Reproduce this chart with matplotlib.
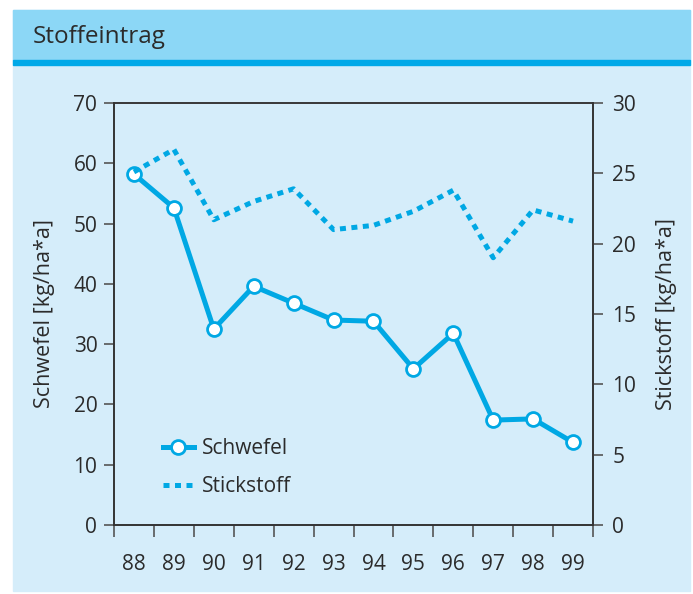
import matplotlib
matplotlib.use("Agg")
import matplotlib.pyplot as plt
from matplotlib.patches import Rectangle
import numpy as np

plt.rcParams['font.family'] = ['Open Sans', 'DejaVu Sans']

years = ["88", "89", "90", "91", "92", "93", "94", "95", "96", "97", "98", "99"]
schwefel = [58.2, 52.6, 32.5, 39.6, 36.8, 34.0, 33.8, 25.9, 31.8, 17.4, 17.6, 13.7]
stickstoff = [25.1, 26.7, 21.7, 23.0, 23.9, 21.0, 21.3, 22.3, 23.8, 19.0, 22.4, 21.6]

cyan = "#00a8e4"
text_col = "#2b2b2b"
W, H = 693, 594

fig = plt.figure(figsize=(6.93, 5.94), dpi=100)
fig.patch.set_facecolor("white")

# panel background, title band and stripe
fig.add_artist(Rectangle((13 / W, 1 - 591 / H), 677 / W, 581 / H,
                         transform=fig.transFigure, color="#d5edfa", zorder=0))
fig.add_artist(Rectangle((13 / W, 1 - 60 / H), 677 / W, 50 / H,
                         transform=fig.transFigure, color="#8cd7f6", zorder=0))
fig.add_artist(Rectangle((13 / W, 1 - 65 / H), 677 / W, 5 / H,
                         transform=fig.transFigure, color="#00a9e8", zorder=0))
fig.text(33 / W, 1 - 37 / H, "Stoffeintrag", fontsize=17.5, color=text_col,
         va="center", ha="left")

ax = fig.add_axes([114 / W, 1 - 525 / H, 479 / W, 422 / H])
ax.patch.set_alpha(0)
x = np.arange(len(years))

ax.plot(x, schwefel, color=cyan, lw=3.6, marker="o", ms=10,
        mfc="white", mec=cyan, mew=2, label="Schwefel", zorder=3)
ax.set_xlim(-0.5, len(years) - 0.5)
ax.set_ylim(0, 70)
ax.set_yticks(range(0, 71, 10))
ax.set_ylabel("Schwefel [kg/ha*a]", fontsize=15.5, color=text_col, labelpad=13)

ax2 = ax.twinx()
ax2.plot(x, stickstoff, color=cyan, lw=3.6, ls=(0, (1.2, 1.1)),
         label="Stickstoff", zorder=2)
ax2.set_ylim(0, 30)
ax2.set_yticks(range(0, 31, 5))
ax2.set_ylabel("Stickstoff [kg/ha*a]", fontsize=15.5, color=text_col, labelpad=14)

ax.set_xticks(x)
ax.set_xticklabels(years)
ax.set_xticks(np.arange(-0.5, len(years)), minor=True)
ax.tick_params(axis="x", which="major", length=0, pad=21, labelsize=15,
               labelcolor=text_col)
ax.tick_params(axis="x", which="minor", length=8.5, width=1.2, color="#555555")
ax.tick_params(axis="y", length=7, width=1.2, color="#555555", pad=5,
               labelsize=15, labelcolor=text_col)
ax2.tick_params(axis="y", length=7, width=1.2, color="#555555", pad=7,
                labelsize=15, labelcolor=text_col)

for a in (ax, ax2):
    for s in a.spines.values():
        s.set_color("#333333")
        s.set_linewidth(1.2)
ax.spines["top"].set_color("#555555")

h1, l1 = ax.get_legend_handles_labels()
h2, l2 = ax2.get_legend_handles_labels()
ax.legend(h1 + h2, l1 + l2, loc="upper left", bbox_to_anchor=(0.08, 0.23),
          frameon=False, fontsize=15, handlelength=1.5, handletextpad=0.4,
          labelspacing=0.8, borderpad=0, labelcolor=text_col)

fig.savefig("out.png", dpi=100)
